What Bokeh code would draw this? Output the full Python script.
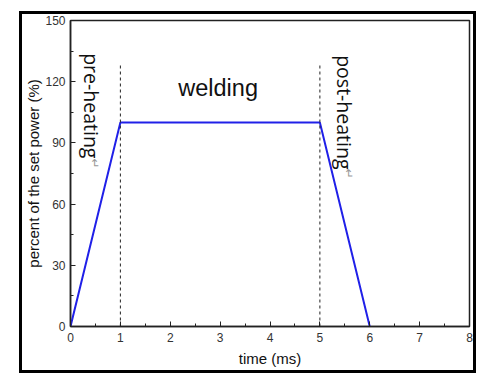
from bokeh.plotting import figure
from bokeh.embed import file_html
from bokeh.resources import INLINE
from bokeh.core.properties import value
from bokeh.models import FixedTicker, Range1d

# data
time_ms = [0, 1, 5, 6]
power_pct = [0, 100, 100, 0]
phase_x = [1, 5]
phase_top = [129, 129]
phase_bottom = [0, 0]
x_ticks = [0, 1, 2, 3, 4, 5, 6, 7, 8]
y_ticks = [0, 30, 60, 90, 120, 150]
labels = ["pre-heating", "post-heating"]
label_x = [0.43, 5.5]
label_y = [134, 133]
mark_x = [0.5, 5.58]
mark_y = [80, 75]
title_x = [2.96]
title_y = [117]
title_txt = ["welding"]

FONT = "Liberation Sans"

p = figure(width=451, height=356, output_backend="svg", toolbar_location=None,
           x_range=Range1d(0, 8), y_range=Range1d(0, 150),
           min_border_left=48, min_border_right=4, min_border_top=6, min_border_bottom=44)
p.styles = {"outline": "3px solid black", "margin-left": "22px", "margin-top": "14px"}

p.grid.visible = False
p.outline_line_color = "#222222"
p.outline_line_width = 1.5

p.line(time_ms, power_pct, line_color="#2020e8", line_width=2)
p.segment(x0=phase_x, y0=phase_bottom, x1=phase_x, y1=phase_top,
          line_color="#222222", line_width=1, line_dash="3 3")

p.text(x=title_x, y=title_y, text=title_txt, text_font=value(FONT), text_font_size="23.5px",
       text_align="center", text_baseline="middle", text_color="#111111")
p.text(x=label_x, y=label_y, text=labels, angle=-1.5708, text_font=value("Open Sans"),
       text_font_size="19.5px", text_align="left", text_baseline="middle", text_color="#111111")
p.text(x=mark_x, y=mark_y, text=["↵", "↵"], angle=-1.5708, text_font=value("DejaVu Sans"),
       text_font_size="12px", text_align="center", text_baseline="middle", text_color="#999999")

for ax in (p.xaxis[0], p.yaxis[0]):
    ax.axis_line_width = 1.5
    ax.axis_line_color = "#222222"
    ax.major_tick_in = 5
    ax.major_tick_out = 0
    ax.minor_tick_in = 3
    ax.minor_tick_out = 0
    ax.major_tick_line_color = "#222222"
    ax.minor_tick_line_color = "#222222"
    ax.major_label_text_font = FONT
    ax.major_label_text_font_size = "12px"
    ax.major_label_text_color = "#333333"
    ax.axis_label_text_font = FONT
    ax.axis_label_text_font_size = "15px"
    ax.axis_label_text_font_style = "normal"
    ax.axis_label_text_color = "#111111"

p.xaxis.ticker = FixedTicker(ticks=x_ticks, minor_ticks=[v + 0.5 for v in x_ticks[:-1]])
p.yaxis.ticker = FixedTicker(ticks=y_ticks, minor_ticks=[v + 15 for v in y_ticks[:-1]])
p.xaxis.axis_label = "time (ms)"
p.yaxis.axis_label = "percent of the set power (%)"
p.xaxis.major_label_standoff = 6
p.yaxis.major_label_standoff = 5
p.xaxis.axis_label_standoff = 5
p.yaxis.axis_label_standoff = 0

open("out.html", "w").write(file_html(p, INLINE))
